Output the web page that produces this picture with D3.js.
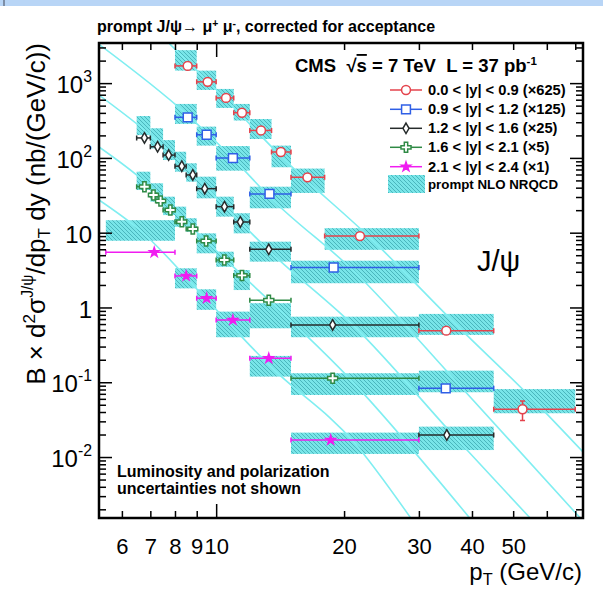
<!DOCTYPE html>
<html>
<head>
<meta charset="utf-8">
<script src="https://cdn.jsdelivr.net/npm/d3@7"></script>
<style>
  body { margin: 0; background: #fff; }
  svg { display: block; font-family: "Liberation Sans", Arial, Helvetica, sans-serif; }
</style>
</head>
<body>
<div id="chart"></div>
<script>
// data --------------------------------------------------------------------------------------------
// 0.0 < |y| < 0.9  (x625)
const redEdges = [8, 9, 10, 11, 12, 13.5, 15, 18, 30, 45, 70];
const redPt    = [8.57, 9.55, 10.55, 11.5, 12.75, 14.2, 16.4, 21.8, 34.8, 52.6];
const redVal   = [1700, 1040, 634, 402, 233, 120, 55, 9.0, 0.49, 0.0435];
const redThLo  = [1470, 811, 466, 316, 179, 75, 34, 5.9, 0.43, 0.0385];
const redThHi  = [2760, 1470, 836, 527, 331, 146, 72, 11.5, 0.82, 0.081];
const redCurve = [[7.76, 3375], [10.5, 624], [14.23, 104], [23.2, 8.2], [36.7, 0.59], [56.1, 0.056], [73, 0.0117]];

// 0.9 < |y| < 1.2  (x125)
const blueEdges = [8, 9, 10, 12, 15, 30, 45];
const bluePt    = [8.57, 9.5, 10.95, 13.35, 18.9, 34.7];
const blueVal   = [349, 204, 99.5, 33, 3.42, 0.083];
const blueThLo  = [285, 146, 67.5, 21.2, 2.11, 0.0735];
const blueThHi  = [527, 262, 144, 41.2, 4.22, 0.143];
const blueCurve = [[5.3, 3300], [8.5, 388], [10.95, 98.6], [13.4, 29.6], [21.2, 2.98], [36.7, 0.1025], [71.9, 0.00153]];

// 1.2 < |y| < 1.6  (x25)
const blackEdges = [6.5, 7, 7.5, 8, 8.5, 9, 10, 11, 12, 15, 30, 45];
const blackPt    = [6.78, 7.28, 7.73, 8.3, 8.81, 9.4, 10.46, 11.4, 13.3, 18.8, 34.9];
const blackVal   = [185, 141, 109, 77.5, 59.2, 38.8, 22.3, 13.9, 6.0, 0.584, 0.0197];
const blackThLo  = [202, 134, 93.7, 65.4, 48.1, 28.8, 16.4, 9.8, 4.1, 0.40, 0.0124];
const blackThHi  = [363, 249, 173, 121, 84.7, 56.1, 30.3, 18.2, 7.58, 0.753, 0.0255];
const blackCurve = [[5.3, 693], [6.75, 241], [8.25, 89], [10.5, 22.3], [13.4, 5.57], [21.2, 0.549], [36.7, 0.0178], [54.8, 0.00153]];

// 1.6 < |y| < 2.1  (x5)
const greenEdges = [6.5, 7, 7.25, 7.5, 8, 8.5, 9, 10, 11, 12, 15, 30];
const greenPt    = [6.78, 7.12, 7.4, 7.8, 8.3, 8.81, 9.47, 10.45, 11.5, 13.3, 18.8];
const greenVal   = [41.2, 31.9, 26.5, 20.1, 14.0, 11.2, 7.74, 4.31, 2.68, 1.25, 0.113];
const greenThLo  = [37.2, 26, 26, 17.2, 12, 10.3, 5.3, 3.5, 1.71, 0.527, 0.0676];
const greenThHi  = [65.4, 45.8, 45.8, 30.3, 22.3, 15.6, 9.8, 5.57, 3.17, 1.14, 0.132];
const greenCurve = [[5.3, 140], [6.75, 49.3], [8.25, 16.4], [10.5, 4.42], [21.2, 0.0945], [39.5, 0.00153]];

// 2.1 < |y| < 2.4  (x1)
const magEdges = [5.5, 8, 9, 10, 12, 15, 30];
const magPt    = [7.15, 8.5, 9.5, 10.95, 13.3, 18.6];
const magVal   = [5.47, 2.64, 1.33, 0.68, 0.209, 0.0169];
const magThLo  = [7.8, 1.8, 0.93, 0.40, 0.119, 0.011];
const magThHi  = [14.7, 3.34, 1.75, 0.88, 0.225, 0.0212];
const magCurve = [[5.3, 27.4], [6.63, 10.7], [9.5, 1.276], [13.4, 0.164], [21.2, 0.0153], [28.7, 0.00153]];

// the only vertical error bar that sticks out of its marker (red, 45-70 GeV)
const redLastErr = [0.0307, 0.0562];

const legendLabels = ['0.0 < |y| < 0.9 (\u00d7625)', '0.9 < |y| < 1.2 (\u00d7125)', '1.2 < |y| < 1.6 (\u00d725)',
                      '1.6 < |y| < 2.1 (\u00d75)', '2.1 < |y| < 2.4 (\u00d71)'];

const xLabelTicks = [6, 7, 8, 9, 10, 20, 30, 40, 50];
const xPlainTicks = [60, 70];
const yMajorExp = [-2, -1, 0, 1, 2, 3];

// layout ------------------------------------------------------------------------------------------
const width = 603, height = 590;
const frame = { left: 99, right: 583, top: 43, bottom: 518 };

const svg = d3.select('#chart').append('svg')
    .attr('width', width)
    .attr('height', height);

// slide band on top of the screenshot
svg.append('rect').attr('x', 0).attr('y', 0).attr('width', width).attr('height', 6).attr('fill', '#b8d5f6');
svg.append('rect').attr('x', 3).attr('y', 0).attr('width', 2).attr('height', 6).attr('fill', '#7d8ea6');

const x = d3.scaleLog().domain([5.3, 73]).range([frame.left, frame.right]);
const y = d3.scaleLog().domain([0.00153, 3440]).range([frame.bottom, frame.top]);

const defs = svg.append('defs');
const hatch = defs.append('pattern')
    .attr('id', 'hatch')
    .attr('patternUnits', 'userSpaceOnUse')
    .attr('width', 4).attr('height', 4);
hatch.append('rect').attr('width', 4).attr('height', 4).attr('fill', '#78e5e8');
hatch.append('path').attr('d', 'M-1,-1 L5,5 M-1,3 L1,5 M3,-1 L5,1')
    .attr('stroke', '#3fa9b2').attr('stroke-width', 0.8);

defs.append('clipPath').attr('id', 'plotclip')
    .append('rect')
    .attr('x', frame.left).attr('y', frame.top)
    .attr('width', frame.right - frame.left).attr('height', frame.bottom - frame.top);

const series = [
    { color: '#e4434c', symbol: d3.symbolCircle, size: 62, open: true, edges: redEdges, pt: redPt, val: redVal, lo: redThLo, hi: redThHi, curve: redCurve },
    { color: '#2f5fe6', symbol: d3.symbolSquare, size: 78, open: true, edges: blueEdges, pt: bluePt, val: blueVal, lo: blueThLo, hi: blueThHi, curve: blueCurve },
    { color: '#262b2b', symbol: d3.symbolDiamond, size: 32, open: true, edges: blackEdges, pt: blackPt, val: blackVal, lo: blackThLo, hi: blackThHi, curve: blackCurve },
    { color: '#2f8a45', symbol: d3.symbolCross, size: 56, open: true, edges: greenEdges, pt: greenPt, val: greenVal, lo: greenThLo, hi: greenThHi, curve: greenCurve },
    { color: '#f01cf0', symbol: d3.symbolStar, size: 26, open: false, edges: magEdges, pt: magPt, val: magVal, lo: magThLo, hi: magThHi, curve: magCurve }
];

// theory boxes ------------------------------------------------------------------------------------
const boxes = svg.append('g').attr('clip-path', 'url(#plotclip)');
series.forEach(s => {
    boxes.append('g').selectAll('rect')
        .data(s.lo.map((lo, i) => ({ x0: s.edges[i], x1: s.edges[i + 1], lo: lo, hi: s.hi[i] })))
        .join('rect')
        .attr('x', d => x(d.x0))
        .attr('width', d => x(d.x1) - x(d.x0))
        .attr('y', d => y(d.hi))
        .attr('height', d => y(d.lo) - y(d.hi))
        .attr('fill', 'url(#hatch)');
});

// theory curves
const curveLine = d3.line()
    .x(d => x(d[0]))
    .y(d => y(d[1]))
    .curve(d3.curveMonotoneX);

svg.append('g').attr('clip-path', 'url(#plotclip)')
    .selectAll('path')
    .data(series)
    .join('path')
    .attr('d', d => curveLine(d.curve))
    .attr('fill', 'none')
    .attr('stroke', '#80eef1')
    .attr('stroke-width', 1.6);

// data points -------------------------------------------------------------------------------------
series.forEach(s => {
    const pts = s.val.map((v, i) => ({ pt: s.pt[i], v: v, x0: s.edges[i], x1: s.edges[i + 1] }));
    const g = svg.append('g');

    g.selectAll('line.hbar')
        .data(pts)
        .join('line')
        .attr('class', 'hbar')
        .attr('x1', d => x(d.x0)).attr('x2', d => x(d.x1))
        .attr('y1', d => y(d.v)).attr('y2', d => y(d.v))
        .attr('stroke', s.color).attr('stroke-width', 1.5);

    // small end caps
    g.selectAll('path.cap')
        .data(pts)
        .join('path')
        .attr('class', 'cap')
        .attr('d', d => `M${x(d.x0)},${y(d.v) - 2.5}V${y(d.v) + 2.5}M${x(d.x1)},${y(d.v) - 2.5}V${y(d.v) + 2.5}`)
        .attr('stroke', s.color).attr('stroke-width', 1.5);

    if (s === series[0]) {
        const last = pts[pts.length - 1];
        g.append('path')
            .attr('d', `M${x(last.pt)},${y(redLastErr[0])}V${y(redLastErr[1])}` +
                       `M${x(last.pt) - 2.5},${y(redLastErr[0])}H${x(last.pt) + 2.5}` +
                       `M${x(last.pt) - 2.5},${y(redLastErr[1])}H${x(last.pt) + 2.5}`)
            .attr('stroke', s.color).attr('stroke-width', 1.5);
    }

    g.selectAll('path.mk')
        .data(pts)
        .join('path')
        .attr('class', 'mk')
        .attr('transform', d => `translate(${x(d.pt)},${y(d.v)})`)
        .attr('d', d3.symbol(s.symbol, s.size))
        .attr('fill', s.open ? '#fff' : s.color)
        .attr('stroke', s.color)
        .attr('stroke-width', 1.5);
});

// axes --------------------------------------------------------------------------------------------
const yMinor = [];
for (let e = -3; e <= 3; e++) {
    for (let m = 2; m <= 9; m++) {
        const v = m * Math.pow(10, e);
        if (v > y.domain()[0] && v < y.domain()[1]) yMinor.push(v);
    }
}
const yMajor = yMajorExp.map(e => Math.pow(10, e));

// left axis
svg.append('g')
    .attr('transform', `translate(${frame.left},0)`)
    .call(d3.axisLeft(y).tickValues(yMinor).tickSizeInner(-7).tickSizeOuter(0).tickFormat(''))
    .call(g => g.select('.domain').remove());

const yAxis = svg.append('g')
    .attr('transform', `translate(${frame.left},0)`)
    .call(d3.axisLeft(y).tickValues(yMajor).tickSizeInner(-13).tickSizeOuter(0).tickPadding(7).tickFormat(''))
    .call(g => g.select('.domain').remove());

yAxis.selectAll('.tick text')
    .attr('font-size', 24)
    .attr('font-family', '"Liberation Sans", Arial, sans-serif')
    .attr('fill', '#000')
    .attr('dy', '0.4em')
    .each(function (d, i) {
        const e = yMajorExp[i];
        const t = d3.select(this);
        if (e === 0) { t.text('1'); return; }
        t.append('tspan').text('10');
        if (e !== 1) {
            t.append('tspan').attr('dy', '-0.72em').attr('font-size', '0.66em').text(String(e));
        }
    });

// right axis (mirrored ticks)
svg.append('g')
    .attr('transform', `translate(${frame.right},0)`)
    .call(d3.axisRight(y).tickValues(yMinor).tickSizeInner(-7).tickSizeOuter(0).tickFormat(''))
    .call(g => g.select('.domain').remove());
svg.append('g')
    .attr('transform', `translate(${frame.right},0)`)
    .call(d3.axisRight(y).tickValues(yMajor).tickSizeInner(-13).tickSizeOuter(0).tickFormat(''))
    .call(g => g.select('.domain').remove());

// bottom axis
const xAxis = svg.append('g')
    .attr('transform', `translate(0,${frame.bottom})`)
    .call(d3.axisBottom(x).tickValues(xLabelTicks.concat(xPlainTicks)).tickSizeInner(-7).tickSizeOuter(0)
        .tickPadding(20).tickFormat(d => xLabelTicks.includes(d) ? String(d) : ''))
    .call(g => g.select('.domain').remove());
xAxis.selectAll('.tick text')
    .attr('font-size', 22)
    .attr('font-family', '"Liberation Sans", Arial, sans-serif')
    .attr('fill', '#000');
xAxis.selectAll('.tick')
    .filter(d => d === 10)
    .select('line').attr('y2', -14);

// top axis
const xTop = svg.append('g')
    .attr('transform', `translate(0,${frame.top})`)
    .call(d3.axisTop(x).tickValues(xLabelTicks.concat(xPlainTicks)).tickSizeInner(-7).tickSizeOuter(0).tickFormat(''))
    .call(g => g.select('.domain').remove());
xTop.selectAll('.tick')
    .filter(d => d === 10)
    .select('line').attr('y2', 14);

svg.selectAll('.tick line').attr('stroke', '#000').attr('stroke-width', 1.5);

// frame
svg.append('rect')
    .attr('x', frame.left).attr('y', frame.top)
    .attr('width', frame.right - frame.left).attr('height', frame.bottom - frame.top)
    .attr('fill', 'none').attr('stroke', '#000').attr('stroke-width', 2.5);

// axis titles
const xTitle = svg.append('text')
    .attr('x', 582).attr('y', 580)
    .attr('text-anchor', 'end')
    .attr('font-size', 24);
xTitle.append('tspan').text('p');
xTitle.append('tspan').attr('font-size', '0.68em').attr('dy', '0.3em').text('T');
xTitle.append('tspan').attr('dy', '-0.2em').text(' (GeV/c)');

const yTitle = svg.append('text')
    .attr('transform', 'translate(45,43) rotate(-90)')
    .attr('text-anchor', 'end')
    .attr('font-size', 26);
yTitle.append('tspan').text('B \u00d7 d');
yTitle.append('tspan').attr('font-size', '0.66em').attr('dy', '-0.6em').text('2');
yTitle.append('tspan').attr('dy', '0.4em').text('\u03c3');
yTitle.append('tspan').attr('font-size', '0.6em').attr('dy', '-0.75em').text('J/\u03c8');
yTitle.append('tspan').attr('dy', '0.45em').text('/dp');
yTitle.append('tspan').attr('font-size', '0.66em').attr('dy', '0.3em').text('T');
yTitle.append('tspan').attr('dy', '-0.2em').text(' dy (nb/(GeV/c))');

// title
const title = svg.append('text')
    .attr('x', 97).attr('y', 32)
    .attr('font-size', 16)
    .attr('font-weight', 'bold');
title.append('tspan').text('prompt J/\u03c8\u2192 \u03bc');
title.append('tspan').attr('font-size', '0.65em').attr('dy', '-0.5em').text('+');
title.append('tspan').attr('dy', '0.33em').text(' \u03bc');
title.append('tspan').attr('font-size', '0.65em').attr('dy', '-0.5em').text('-');
title.append('tspan').attr('dy', '0.33em').text(', corrected for acceptance');

// CMS header
const cms = svg.append('text')
    .attr('x', 295).attr('y', 72)
    .attr('font-size', 18.5)
    .attr('font-weight', 'bold')
    .style('white-space', 'pre');
cms.append('tspan').text('CMS  \u221a');
cms.append('tspan').style('text-decoration', 'overline').text('s');
cms.append('tspan').text(' = 7 TeV  L = 37 pb');
cms.append('tspan').attr('font-size', '0.62em').attr('dy', '-0.6em').text('-1');

// legend
const legend = svg.append('g');
const legendY = [90, 109.3, 128.3, 147.3, 166.7];
series.forEach((s, i) => {
    const row = legend.append('g').attr('transform', `translate(0,${legendY[i]})`);
    row.append('line').attr('x1', 390).attr('x2', 422).attr('stroke', s.color).attr('stroke-width', 1.5);
    row.append('path')
        .attr('transform', 'translate(406,0)')
        .attr('d', d3.symbol(s.symbol, s.size))
        .attr('fill', s.open ? '#fff' : s.color)
        .attr('stroke', s.color).attr('stroke-width', 1.5);
    row.append('text')
        .attr('x', 428).attr('y', 5)
        .attr('font-size', 14.7)
        .attr('font-weight', 'bold')
        .text(legendLabels[i]);
});
legend.append('rect')
    .attr('x', 388).attr('y', 175).attr('width', 37).attr('height', 18)
    .attr('fill', 'url(#hatch)');
legend.append('text')
    .attr('x', 428).attr('y', 189)
    .attr('font-size', 13.3)
    .attr('font-weight', 'bold')
    .text('prompt NLO NRQCD');

// J/psi label
svg.append('text')
    .attr('x', 477).attr('y', 271)
    .attr('font-size', 29)
    .text('J/\u03c8');

// note
svg.append('text')
    .attr('x', 117).attr('y', 477)
    .attr('font-size', 16).attr('font-weight', 'bold')
    .text('Luminosity and polarization');
svg.append('text')
    .attr('x', 117).attr('y', 494)
    .attr('font-size', 16).attr('font-weight', 'bold')
    .text('uncertainties not shown');
</script>
</body>
</html>
